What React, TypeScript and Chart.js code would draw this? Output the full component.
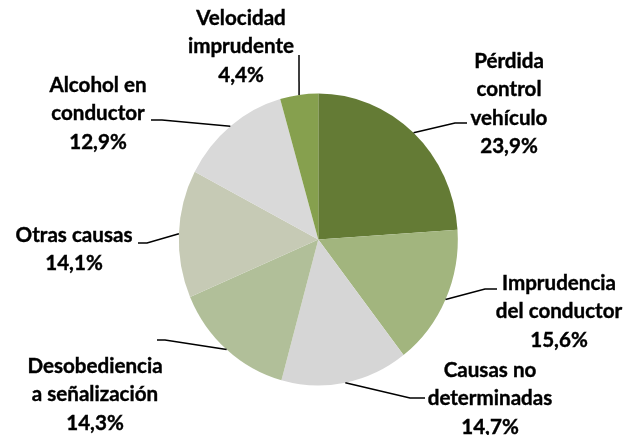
import React, { useEffect, useRef } from "react";
import { Chart, registerables } from "chart.js";

Chart.register(...registerables);

const categories: string[][] = [
  ["Pérdida", "control", "vehículo"],
  ["Imprudencia", "del conductor"],
  ["Causas no", "determinadas"],
  ["Desobediencia", "a señalización"],
  ["Otras causas"],
  ["Alcohol en", "conductor"],
  ["Velocidad", "imprudente"],
];
const values: number[] = [23.9, 15.6, 14.7, 14.3, 14.1, 12.9, 4.4];
const colors: string[] = ["#647B35", "#A2B57E", "#D6D6D6", "#B1BF99", "#C6CAB5", "#D9D9D9", "#86A04E"];

// label placement (style): center x, first baseline y, leader polyline points (from pie edge outward)
const labelPlacement = [
  { x: 509, y: 68, lead: [[455, 123], [467, 123]] },
  { x: 559, y: 290, lead: [[485, 289], [497, 289]] },
  { x: 490, y: 377, lead: [[410, 398], [425, 398]] },
  { x: 95, y: 373, lead: [[165, 340], [157, 340]] },
  { x: 74, y: 242, lead: [[147, 243], [138, 243]] },
  { x: 98, y: 92, lead: [[162, 120], [151, 120]] },
  { x: 241, y: 25, lead: [[299, 55]] },
];

const Y_SCALE = 146 / 139.5;
const LINE_H = 28.3;
const FONT = "bold 20.6px Lato, 'Open Sans', sans-serif";

const fmt = (v: number) => v.toFixed(1).replace(".", ",") + "%";

const ellipsePlugin = {
  id: "ellipse",
  beforeDatasetsDraw(chart: any) {
    const arc = chart.getDatasetMeta(0).data[0];
    const ctx = chart.ctx;
    ctx.save();
    ctx.translate(arc.x, arc.y);
    ctx.scale(1, Y_SCALE);
    ctx.translate(-arc.x, -arc.y);
  },
  afterDatasetsDraw(chart: any) {
    chart.ctx.restore();
  },
};

const labelPlugin = {
  id: "pieLabels",
  afterDraw(chart: any) {
    const ctx = chart.ctx;
    const meta = chart.getDatasetMeta(0);
    ctx.save();
    meta.data.forEach((arc: any, i: number) => {
      const p = labelPlacement[i];
      const mid = (arc.startAngle + arc.endAngle) / 2;
      const sx = arc.x + arc.outerRadius * Math.cos(mid);
      const sy = arc.y + arc.outerRadius * Y_SCALE * Math.sin(mid);
      ctx.strokeStyle = "#000";
      ctx.lineWidth = 1.5;
      ctx.beginPath();
      ctx.moveTo(sx, sy);
      p.lead.forEach((pt) => ctx.lineTo(pt[0], pt[1]));
      ctx.stroke();
      const lines = [...categories[i], fmt(values[i])];
      ctx.fillStyle = "#000";
      ctx.strokeStyle = "#000";
      ctx.lineWidth = 0.4;
      ctx.font = FONT;
      ctx.textAlign = "center";
      ctx.textBaseline = "alphabetic";
      lines.forEach((t, j) => {
        ctx.fillText(t, p.x, p.y + j * LINE_H);
        ctx.strokeText(t, p.x, p.y + j * LINE_H);
      });
    });
    ctx.restore();
  },
};

export default function App() {
  const ref = useRef<HTMLCanvasElement>(null);
  useEffect(() => {
    const chart = new Chart(ref.current as HTMLCanvasElement, {
      type: "pie",
      data: {
        labels: categories.map((c) => c.join(" ")),
        datasets: [
          {
            data: values,
            backgroundColor: colors,
            borderWidth: 0,
          },
        ],
      },
      options: {
        responsive: false,
        animation: false,
        devicePixelRatio: 1,
        layout: { padding: { left: 178.8, right: 169.2, top: 100, bottom: 56 } },
        plugins: { legend: { display: false }, tooltip: { enabled: false } },
      },
      plugins: [ellipsePlugin, labelPlugin],
    });
    return () => chart.destroy();
  }, []);
  return (
    <div style={{ position: "absolute", left: 0, top: 0, width: 627, height: 435, background: "#fff" }}>
      <canvas ref={ref} width={627} height={435} style={{ width: 627, height: 435 }} />
    </div>
  );
}
